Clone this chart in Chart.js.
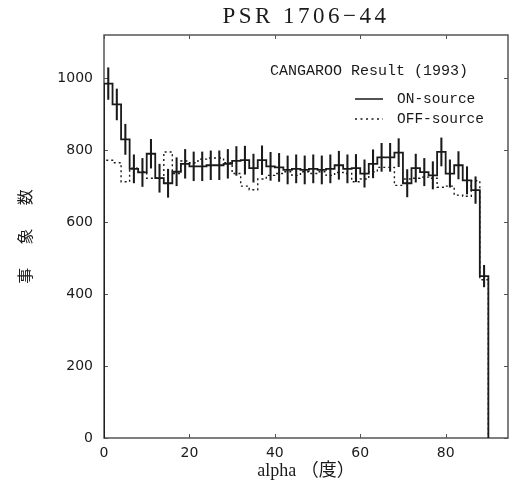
<!DOCTYPE html>
<html><head><meta charset="utf-8">
<script src="https://cdn.jsdelivr.net/npm/chart.js@4.4.1/dist/chart.umd.min.js"></script>
<style>html,body{margin:0;padding:0;background:#fff;}canvas{display:block;}</style>
</head><body>
<canvas id="c" width="512" height="483"></canvas>
<script>
const titleText = 'PSR 1706\u221244';
const xTitle = 'alpha \uFF08度\uFF09';
const yTitle = '事\u3000  象\u3000  数';
const legendHeader = 'CANGAROO Result (1993)';
const seriesNames = ['ON-source', 'OFF-source'];

const binStart = [0,2,4,6,8,10,12,14,16,18,20,22,24,26,28,30,32,34,36,38,40,42,44,46,48,50,52,54,56,58,60,62,64,66,68,70,72,74,76,78,80,82,84,86,88];
const binWidth = 2;
const onSource = [985,927,830,748,738,790,722,708,740,762,755,755,758,758,762,770,772,750,772,755,752,745,748,745,748,745,748,758,748,750,735,762,780,780,793,708,750,739,730,795,735,758,716,689,450];
const offSource = [772,765,712,750,740,722,722,795,735,770,765,775,778,778,765,735,700,690,720,730,735,740,730,740,735,740,730,738,735,712,720,740,752,752,702,720,722,725,722,697,700,675,672,715,440];
const onErr = [44,43,42,39,39,40,39,39,39,40,40,40,40,40,40,40,39,39,40,39,39,39,39,39,39,39,39,39,39,38,38,39,39,39,39,38,39,38,38,39,38,38,38,37,30];

const xTicks = [0,20,40,60,80];
const yTicks = [0,200,400,600,800,1000];

function histPoints(vals){
  const pts = [{x: binStart[0], y: 0}];
  vals.forEach((v,i)=>pts.push({x: binStart[i], y: v}));
  const end = binStart[binStart.length-1] + binWidth;
  pts.push({x: end, y: vals[vals.length-1]});
  pts.push({x: end, y: 0});
  return pts;
}
const errData = onSource.map((v,i)=>({x: binStart[i] + binWidth/2, y: [v - onErr[i], v + onErr[i]]}));

const INK = '#1a1a1a';

const decor = {
  id: 'decor',
  beforeDatasetsDraw(chart){
    const {ctx, chartArea: a, scales: {x, y}} = chart;
    ctx.save();
    ctx.strokeStyle = '#555';
    ctx.lineWidth = 1.5;
    ctx.strokeRect(a.left, a.top, a.right - a.left, a.bottom - a.top);
    ctx.lineWidth = 1;
    ctx.beginPath();
    x.ticks.forEach(t => {
      const px = Math.round(x.getPixelForValue(t.value)) + 0.5;
      ctx.moveTo(px, a.bottom); ctx.lineTo(px, a.bottom - 4);
      ctx.moveTo(px, a.top); ctx.lineTo(px, a.top + 4);
    });
    y.ticks.forEach(t => {
      const py = Math.round(y.getPixelForValue(t.value)) + 0.5;
      ctx.moveTo(a.left, py); ctx.lineTo(a.left + 4, py);
      ctx.moveTo(a.right, py); ctx.lineTo(a.right - 4, py);
    });
    ctx.stroke();
    ctx.restore();
  },
  afterDraw(chart){
    const {ctx} = chart;
    ctx.save();
    ctx.fillStyle = INK;
    ctx.font = '23px "Liberation Serif", "DejaVu Serif", serif';
    ctx.textAlign = 'center';
    ctx.textBaseline = 'middle';
    if ('letterSpacing' in ctx) ctx.letterSpacing = '3.5px';
    ctx.fillText(titleText, 306, 17);
    if ('letterSpacing' in ctx) ctx.letterSpacing = '0px';
    ctx.textAlign = 'left';
    ctx.font = '15px "Liberation Mono", "DejaVu Sans Mono", monospace';
    ctx.fillText(legendHeader, 270, 71);
    ctx.font = '14.5px "Liberation Mono", "DejaVu Sans Mono", monospace';
    ctx.fillText(seriesNames[0], 397, 99);
    ctx.fillText(seriesNames[1], 397, 119);
    ctx.strokeStyle = INK;
    ctx.lineWidth = 1.5;
    ctx.beginPath(); ctx.moveTo(355, 99); ctx.lineTo(383, 99); ctx.stroke();
    ctx.setLineDash([2, 3.5]);
    ctx.beginPath(); ctx.moveTo(355, 119); ctx.lineTo(383, 119); ctx.stroke();
    ctx.restore();
  }
};

new Chart(document.getElementById('c'), {
  type: 'line',
  data: {
    datasets: [
      {
        label: seriesNames[0],
        data: histPoints(onSource),
        stepped: 'before',
        borderColor: INK,
        borderWidth: 1.8,
        pointRadius: 0,
        fill: false,
        order: 1
      },
      {
        label: seriesNames[1],
        data: histPoints(offSource),
        stepped: 'before',
        borderColor: INK,
        borderWidth: 1.4,
        borderDash: [2, 3],
        pointRadius: 0,
        fill: false,
        order: 2
      },
      {
        type: 'bar',
        label: 'err',
        data: errData,
        backgroundColor: INK,
        borderWidth: 0,
        barThickness: 1.4,
        order: 0
      }
    ]
  },
  options: {
    responsive: false,
    animation: false,
    devicePixelRatio: 1,
    layout: {padding: {left: 0, right: 4, top: 35, bottom: 0}},
    plugins: {legend: {display: false}, tooltip: {enabled: false}, title: {display: false}},
    scales: {
      x: {
        type: 'linear',
        min: 0, max: 94.6,
        offset: false,
        grid: {display: false, drawTicks: false},
        border: {display: false},
        afterBuildTicks: s => { s.ticks = xTicks.map(v => ({value: v})); },
        afterFit: s => { s.height = 45; },
        ticks: {
          padding: 7,
          color: INK,
          font: {family: '"DejaVu Sans", sans-serif', size: 14},
          maxRotation: 0,
          autoSkip: false,
          callback: v => String(v)
        },
        title: {
          display: true,
          text: xTitle,
          color: INK,
          font: {family: '"Liberation Serif", "Noto Sans CJK JP", serif', size: 18},
          padding: {top: 0, bottom: 1}
        }
      },
      y: {
        min: 0, max: 1120,
        grid: {display: false, drawTicks: false},
        border: {display: false},
        afterBuildTicks: s => { s.ticks = yTicks.map(v => ({value: v})); },
        afterFit: s => { s.width = 104; },
        ticks: {
          padding: 11,
          color: INK,
          font: {family: '"DejaVu Sans", sans-serif', size: 14},
          autoSkip: false,
          callback: v => String(v)
        },
        title: {
          display: true,
          text: yTitle,
          color: INK,
          font: {family: '"Noto Sans CJK JP", sans-serif', size: 16},
          padding: {top: 15, bottom: 0}
        }
      }
    }
  },
  plugins: [decor]
});
</script>
</body></html>
